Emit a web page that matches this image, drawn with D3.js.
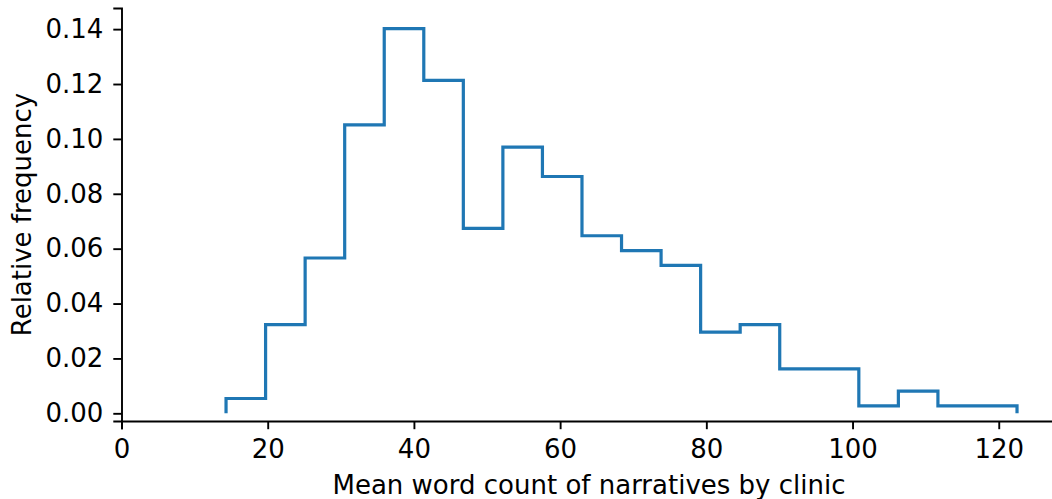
<!DOCTYPE html>
<html>
<head>
<meta charset="utf-8">
<script src="https://cdn.jsdelivr.net/npm/d3@7"></script>
<style>
  body { margin: 0; background: #fff; }
  svg text { font-family: "DejaVu Sans", sans-serif; }
</style>
</head>
<body>
<div id="chart"></div>
<script>
// histogram bins (mean word count), 20 equal bins
const binStart = 14.3
const binEnd = 122.5
// relative frequency per bin
const frequencies = [0.0054, 0.0323, 0.0566, 0.1051, 0.1402, 0.1213, 0.0674, 0.0970,
  0.0863, 0.0647, 0.0593, 0.0539, 0.0296, 0.0323, 0.0162, 0.0162, 0.0027, 0.0081,
  0.0027, 0.0027]
const xTicks = [0, 20, 40, 60, 80, 100, 120]
const yTicks = [0, 0.02, 0.04, 0.06, 0.08, 0.10, 0.12, 0.14]

const width = 1052,
  height = 499,
  plotLeft = 121.5,
  plotTop = 8,
  plotRight = 1056.5,
  plotBottom = 421

const svg = d3.select('#chart')
  .append('svg')
  .attr('width', width)
  .attr('height', height)

const x = d3.scaleLinear().domain([0, 127.9]).range([plotLeft, plotRight])
const y = d3.scaleLinear().domain([-0.0028, 0.1477]).range([plotBottom, plotTop])

const binW = (binEnd - binStart) / frequencies.length
const edges = frequencies.map((d, i) => binStart + i * binW).concat([binEnd])

// step outline like matplotlib histtype='step'
const pts = [[edges[0], 0]]
frequencies.forEach((f, i) => {
  pts.push([edges[i], f])
  pts.push([edges[i + 1], f])
})
pts.push([binEnd, 0])

const line = d3.line().x(d => x(d[0])).y(d => y(d[1]))

svg.append('path')
  .datum(pts)
  .attr('d', line)
  .attr('fill', 'none')
  .attr('stroke', '#1f77b4')
  .attr('stroke-width', 3.2)
  .attr('stroke-linejoin', 'miter')
  .attr('stroke-linecap', 'butt')

const xAxis = d3.axisBottom(x)
  .tickValues(xTicks)
  .tickFormat(d3.format('d'))
  .tickSizeOuter(0)
  .tickSize(8.2)
  .tickPadding(10)

const yAxis = d3.axisLeft(y)
  .tickValues(yTicks)
  .tickFormat(d3.format('.2f'))
  .tickSizeOuter(0)
  .tickSize(8.2)
  .tickPadding(10)

const gx = svg.append('g')
  .attr('transform', `translate(0, ${plotBottom})`)
  .call(xAxis)

const gy = svg.append('g')
  .attr('transform', `translate(${plotLeft}, 0)`)
  .call(yAxis)

for (const g of [gx, gy]) {
  g.selectAll('.domain').attr('stroke', '#000').attr('stroke-width', 1.9)
  g.selectAll('.tick line').attr('stroke', '#000').attr('stroke-width', 1.9)
  g.selectAll('.tick text')
    .attr('fill', '#000')
    .style('font-size', '26px')
}

svg.append('text')
  .attr('x', (plotLeft + plotRight) / 2)
  .attr('y', 494)
  .attr('text-anchor', 'middle')
  .style('font-size', '26px')
  .text('Mean word count of narratives by clinic')

svg.append('text')
  .attr('transform', `translate(31, ${(plotTop + plotBottom) / 2}) rotate(-90)`)
  .attr('text-anchor', 'middle')
  .style('font-size', '26px')
  .text('Relative frequency')
</script>
</body>
</html>
